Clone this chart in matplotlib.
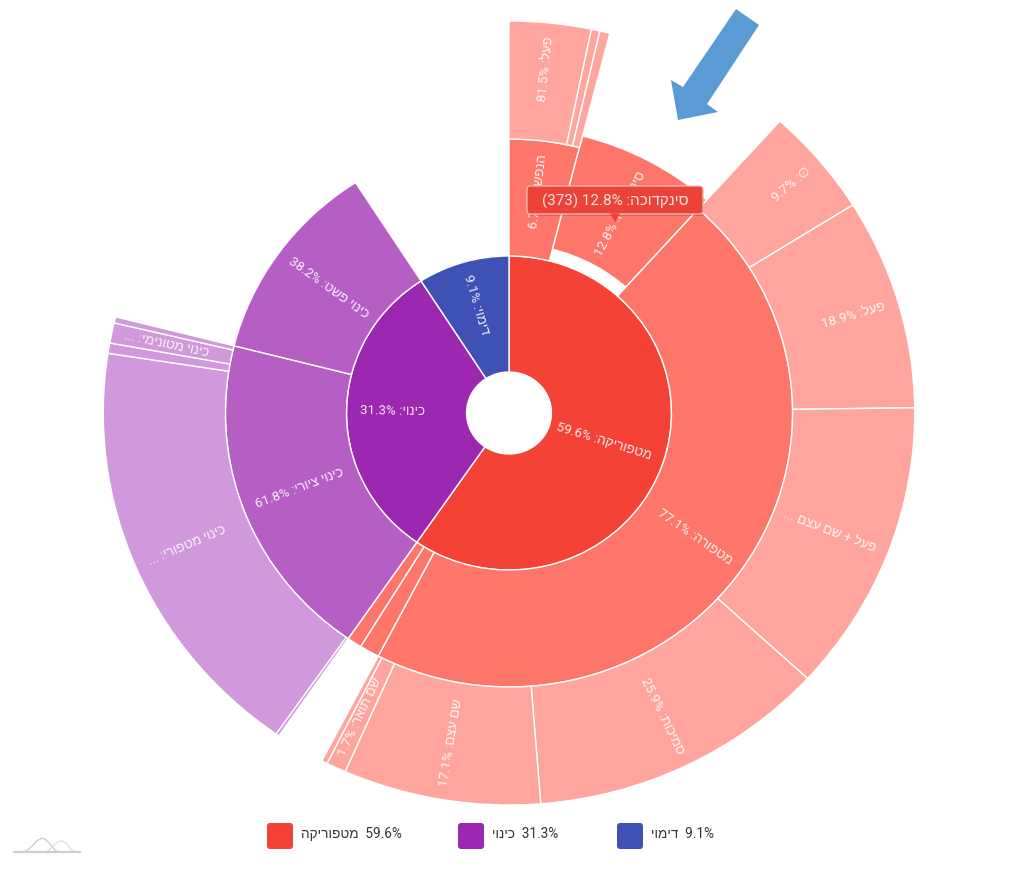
import matplotlib

matplotlib.use("Agg")
from matplotlib import pyplot as plt
from matplotlib.patches import FancyBboxPatch, Polygon, Wedge
import numpy as np

plt.rcParams["font.family"] = ["Roboto", "Liberation Sans", "DejaVu Sans"]

# percentages, clockwise from 12 o'clock; each level is a share of its parent
top_names = ["מטפוריקה", "כינוי", "דימוי"]
top_values = [59.6, 31.3, 9.1]

metonymy_names = ["הנפשה", "סינקדוכה", "מטפורה", None, None]
metonymy_values = [6.7, 12.8, 77.1, 1.9, 1.4]

animation_names = ["פעל", None, None]
animation_values = [81.5, 8.5, 10.0]

metaphor_names = ["∅", "פעל", "פעל + שם עצם", "סמיכות", "שם עצם", "שם תואר", None]
metaphor_values = [9.7, 18.9, 26.2, 25.9, 17.1, 1.7, 0.5]

pronoun_names = ["כינוי ציורי", "כינוי פשט"]
pronoun_values = [61.8, 38.2]

figurative_names = [None, "כינוי מטפורי", None, "כינוי מטונימי", None]
figurative_values = [0.7, 91.5, 2.2, 4.3, 1.3]

# labels too long for the slice lose their value in the original
truncated = {"פעל + שם עצם": " ...", "כינוי מטפורי": ": ...", "כינוי מטונימי": ": ..."}

tooltip_name = "סינקדוכה"
tooltip_value = 12.8
tooltip_count = 373

RED = ["#F44336", "#FE766A", "#FFA59E"]
PURPLE = ["#9C27B0", "#B55FC5", "#CF99DC"]
BLUE = "#3F51B5"
RADII = [41, 157, 274, 392]
SELECTED_SHIFT = 12
LABEL_PAD = 13
X_STRETCH = 1.035

fig = plt.figure(figsize=(10.18, 8.71), dpi=100)
ax = fig.add_axes([0, 0, 1, 1])
ax.set_xlim(-509 / X_STRETCH, 509 / X_STRETCH)
ax.set_ylim(-458, 413)
ax.axis("off")


def visual(name, value):
    """matplotlib has no bidi, so lay the Hebrew out left to right by hand."""
    if name in truncated:
        return (name + truncated[name])[::-1]
    return f"{value:.1f}% :{name[::-1]}"


def draw_ring(names, values, start, span, level, color, shifted=None):
    """Draw one family of slices and return its (start, sweep) angles."""
    spans = {}
    angle = start
    total = sum(values)
    for i, (name, value) in enumerate(zip(names, values)):
        sweep = span * value / total
        inner, outer = RADII[level], RADII[level + 1]
        if i == shifted:
            inner += SELECTED_SHIFT
            outer += SELECTED_SHIFT
        ax.add_patch(
            Wedge(
                (0, 0),
                outer,
                90 - angle - sweep,
                90 - angle,
                width=outer - inner,
                facecolor=color,
                edgecolor="white",
                linewidth=1.0,
            )
        )
        if name:
            mid = angle + sweep / 2
            radius = outer - LABEL_PAD
            theta = np.radians(mid)
            # labels run along the radius, their outer end near the rim
            right_half = mid < 180
            ax.text(
                radius * np.sin(theta),
                radius * np.cos(theta),
                visual(name, value),
                rotation=90 - mid if right_half else 270 - mid,
                rotation_mode="anchor",
                ha="right" if right_half else "left",
                va="center",
                color="white",
                alpha=0.9,
                fontsize=9.6,
                zorder=5,
            )
        spans[i] = (angle, sweep)
        angle += sweep
    return spans


top = draw_ring(top_names[:1], [top_values[0]], 0, 360 * top_values[0] / 100, 0, RED[0])
pronoun_sweep = 360 * top_values[1] / 100
blue_sweep = 360 * top_values[2] / 100
metaphor_end = top[0][1]
draw_ring(top_names[1:2], [top_values[1]], metaphor_end, pronoun_sweep, 0, PURPLE[0])
draw_ring(top_names[2:], [top_values[2]], metaphor_end + pronoun_sweep, blue_sweep, 0, BLUE)

second = draw_ring(metonymy_names, metonymy_values, 0, metaphor_end, 1, RED[1], shifted=1)
draw_ring(animation_names, animation_values, *second[0], 2, RED[2])
draw_ring(metaphor_names, metaphor_values, *second[2], 2, RED[2])

pronoun = draw_ring(pronoun_names, pronoun_values, metaphor_end, pronoun_sweep, 1, PURPLE[1])
draw_ring(figurative_names, figurative_values, *pronoun[0], 2, PURPLE[2])

# overlay in pixel coordinates: tooltip, arrow, legend, logo
over = fig.add_axes([0, 0, 1, 1], facecolor="none")
over.set_xlim(0, 1018)
over.set_ylim(871, 0)
over.axis("off")

over.add_patch(
    Polygon(
        [(736, 9), (759, 25), (707, 104), (718, 112), (678, 120), (671, 80), (683, 87)],
        facecolor="#5B9BD5",
        edgecolor="none",
    )
)

over.add_patch(
    FancyBboxPatch(
        (528, 188), 176, 28, boxstyle="round,pad=0,rounding_size=3",
        facecolor="black", edgecolor="none", alpha=0.15,
    )
)
over.add_patch(
    FancyBboxPatch(
        (527, 186), 176, 28, boxstyle="round,pad=0,rounding_size=3",
        facecolor="#EC4338", edgecolor="#F8C9C4", linewidth=0.8,
    )
)
over.add_patch(Polygon([(610, 213.5), (620, 213.5), (615, 222)], facecolor="#EC4338", edgecolor="none"))
over.text(
    615,
    201,
    f"({tooltip_count}) {tooltip_value}% :{tooltip_name[::-1]}",
    ha="center",
    va="center",
    color="#F6E3E1",
    fontsize=10.9,
)

swatch_x = [267, 458, 617]
swatch_colors = [RED[0], PURPLE[0], BLUE]
for x, name, value, color in zip(swatch_x, top_names, top_values, swatch_colors):
    over.add_patch(
        FancyBboxPatch(
            (x, 823), 26, 26, boxstyle="round,pad=0,rounding_size=3",
            facecolor=color, edgecolor="none",
        )
    )
    over.text(
        x + 34, 834, f"{name[::-1]}  {value}%",
        ha="left", va="center", color="#333333", fontsize=9.8,
    )

# faint chart-library mark, bottom left
logo_x = [24, 29, 34, 38, 42, 46, 50, 54, 58]
logo_y = [852, 849, 844, 840, 838, 840, 844, 849, 852]
logo2_x = [46, 50, 54, 58, 62, 66, 70, 74]
logo2_y = [852, 849, 845, 842, 841, 843, 848, 852]
over.plot(logo_x, logo_y, color="#CFCFCF", linewidth=1.0)
over.plot(logo2_x, logo2_y, color="#E0E0E0", linewidth=1.0)
over.plot([14, 80], [852, 852], color="#CFCFCF", linewidth=1.6)

fig.savefig("out.png", dpi=100, facecolor="white")
